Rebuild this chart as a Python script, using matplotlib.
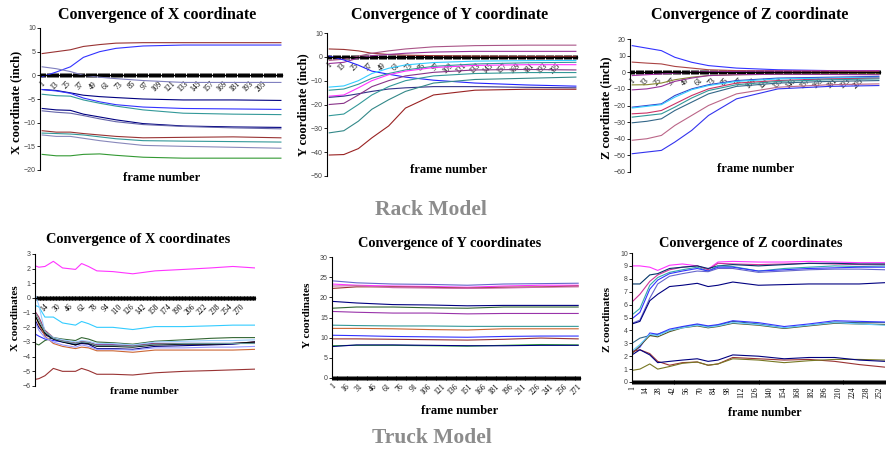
import numpy as np
import matplotlib
matplotlib.use("Agg")
import matplotlib.pyplot as plt
from matplotlib.ticker import MultipleLocator

W, H = 886, 451

# ---------------- data ----------------
# Rack model: sample frames shared by the three rack panels
rack_frames = [2, 15, 28, 40, 55, 70, 95, 132, 178, 222]
rack_ticks = [1, 13, 25, 37, 49, 61, 73, 85, 97, 109, 121, 133, 145, 157, 169, 181, 193, 205]

rack_x_vals = [
    [4.6, 5.0, 5.4, 6.1, 6.5, 6.8, 6.9, 6.9, 6.9, 6.9],
    [-0.3, 0.7, 1.8, 3.8, 5.0, 5.7, 6.2, 6.4, 6.4, 6.4],
    [1.8, 1.4, 0.8, 0.0, -0.4, -0.7, -1.1, -1.5, -1.5, -1.5],
    [-3.0, -3.2, -3.7, -4.2, -4.5, -4.7, -5.0, -5.2, -5.2, -5.3],
    [-3.0, -3.3, -3.8, -4.8, -5.6, -6.2, -6.7, -7.0, -7.1, -7.2],
    [-4.0, -4.3, -4.4, -5.2, -5.9, -6.5, -7.3, -8.0, -8.2, -8.3],
    [-7.0, -7.3, -7.4, -8.2, -8.8, -9.4, -10.2, -10.7, -10.9, -11.0],
    [-7.5, -7.8, -8.0, -8.5, -9.2, -9.8, -10.4, -10.8, -11.1, -11.3],
    [-11.7, -12.0, -12.0, -12.3, -12.6, -12.9, -13.2, -13.1, -13.0, -13.2],
    [-12.2, -12.3, -12.4, -12.6, -13.0, -13.4, -13.8, -13.9, -14.0, -14.1],
    [-12.6, -12.9, -12.9, -13.3, -13.8, -14.2, -14.8, -15.0, -15.2, -15.4],
    [-16.7, -17.0, -17.0, -16.7, -16.6, -16.9, -17.3, -17.5, -17.5, -17.5],
]
rack_x_colors = ['#993333', '#3333ff', '#8080c0', '#000080', '#3333ff', '#339999',
                 '#000080', '#6666aa', '#993333', '#339999', '#8888bb', '#339933']

rack_y_vals = [
    [3.3, 3.1, 2.5, 1.5, 1.0, 0.7, 0.5, 0.3, 0.2, 0.2],
    [-1.5, -1.0, 0.3, 1.5, 2.5, 3.3, 4.2, 4.7, 4.9, 4.9],
    [-2.8, -2.3, -0.5, 0.5, 1.0, 1.5, 2.0, 2.3, 2.3, 2.3],
    [0.3, -1.3, -3.5, -6.0, -7.3, -8.5, -9.8, -11.0, -11.8, -12.3],
    [-12.7, -12.2, -10.0, -7.0, -4.8, -3.4, -2.4, -1.8, -1.6, -1.5],
    [-14.0, -13.5, -11.5, -9.0, -7.0, -5.5, -4.0, -3.0, -2.5, -2.3],
    [-16.5, -16.0, -13.0, -10.0, -7.5, -6.0, -4.5, -3.6, -3.3, -3.3],
    [-17.0, -16.5, -15.5, -14.5, -13.5, -13.0, -12.5, -12.5, -12.8, -13.0],
    [-20.0, -19.5, -16.0, -12.5, -10.0, -8.0, -6.5, -5.5, -5.3, -5.5],
    [-24.7, -24.0, -20.0, -16.0, -12.5, -10.0, -8.0, -7.0, -6.6, -6.6],
    [-31.9, -31.0, -27.0, -22.0, -18.0, -14.5, -11.0, -9.5, -9.0, -8.5],
    [-41.2, -41.0, -38.5, -34.0, -29.0, -21.5, -16.0, -14.0, -13.6, -13.6],
]
rack_y_colors = ['#993333', '#aa5588', '#993399', '#2222ff', '#33ccff', '#339999',
                 '#ff33ff', '#333388', '#883388', '#339999', '#338888', '#992222']

rack_z_vals = [
    [16.0, 14.5, 13.0, 9.0, 6.0, 4.0, 2.5, 1.5, 1.0, 0.5],
    [6.1, 5.5, 5.0, 3.5, 2.5, 1.5, 1.0, 0.8, 0.6, 0.5],
    [-2.0, -1.5, -1.0, -0.5, 0.0, 0.3, 0.5, 0.8, 1.0, 1.0],
    [-7.6, -7.5, -6.5, -4.5, -3.0, -2.0, -1.5, -1.2, -1.0, -1.0],
    [-10.6, -10.0, -8.5, -5.5, -3.5, -2.0, -1.5, -1.2, -1.3, -1.5],
    [-21.0, -20.0, -19.0, -14.0, -10.0, -7.5, -5.0, -3.5, -3.0, -2.5],
    [-21.5, -20.5, -19.5, -15.0, -10.5, -8.0, -5.5, -4.0, -3.5, -3.0],
    [-25.0, -24.5, -23.0, -19.0, -14.0, -10.0, -6.5, -5.0, -4.0, -3.5],
    [-27.0, -26.0, -25.0, -21.0, -15.5, -11.0, -7.5, -5.5, -4.5, -4.0],
    [-30.4, -29.5, -28.0, -23.0, -18.0, -13.0, -8.5, -6.5, -5.5, -5.0],
    [-40.9, -40.0, -38.0, -32.0, -26.0, -20.0, -13.0, -9.0, -7.5, -7.0],
    [-49.0, -48.0, -47.0, -42.0, -35.0, -26.0, -16.0, -10.0, -8.5, -8.0],
]
rack_z_colors = ['#3333ff', '#aa4444', '#aa33aa', '#888833', '#993399', '#3344cc',
                 '#33ccff', '#cc3366', '#339999', '#336688', '#bb6688', '#3333ee']

# Truck model
truck_x_frames = [1, 6, 14, 25, 37, 54, 62, 71, 82, 103, 129, 158, 196, 231, 260, 289]
truck_x_ticks = [14, 30, 46, 62, 78, 94, 110, 126, 142, 158, 174, 190, 206, 222, 238, 254, 270]
truck_x_vals = [
    [2.2, 2.1, 2.15, 2.5, 2.05, 1.95, 2.35, 2.15, 1.85, 1.8, 1.65, 1.85, 1.95, 2.05, 2.15, 2.05],
    [-0.5, -0.6, -1.3, -1.3, -1.7, -1.85, -1.6, -1.75, -2.0, -2.0, -2.15, -1.95, -1.95, -1.9, -1.85, -1.85],
    [-5.55, -5.5, -5.3, -4.8, -5.0, -5.0, -4.8, -4.95, -5.2, -5.2, -5.25, -5.1, -5.0, -4.95, -4.9, -4.85],
    [-3.1, -3.2, -2.9, -2.7, -2.8, -2.9, -2.7, -2.8, -3.0, -3.05, -3.15, -2.95, -2.85, -2.75, -2.7, -2.7],
    [-2.45, -2.6, -2.8, -2.9, -3.0, -3.15, -3.0, -3.1, -3.2, -3.2, -3.25, -3.1, -3.1, -3.1, -3.1, -3.1],
    [-1.5, -2.0, -2.5, -2.8, -2.95, -3.2, -3.1, -3.15, -3.45, -3.45, -3.5, -3.3, -3.25, -3.2, -3.15, -3.0],
    [-1.1, -1.8, -2.6, -3.1, -3.3, -3.45, -3.35, -3.4, -3.6, -3.6, -3.7, -3.55, -3.55, -3.55, -3.55, -3.5],
    [-0.9, -1.3, -2.2, -2.7, -2.9, -3.05, -2.95, -3.0, -3.2, -3.2, -3.25, -3.1, -3.1, -3.1, -3.1, -3.0],
    [0.3, -0.5, -2.3, -2.7, -2.85, -3.0, -2.9, -2.95, -3.1, -3.1, -3.2, -3.0, -2.95, -2.9, -2.9, -2.85],
    [-1.6, -2.2, -2.7, -3.0, -3.2, -3.35, -3.2, -3.3, -3.5, -3.5, -3.55, -3.4, -3.4, -3.35, -3.35, -3.3],
    [-1.2, -1.7, -2.4, -2.8, -3.0, -3.2, -3.05, -3.1, -3.3, -3.3, -3.35, -3.2, -3.15, -3.15, -3.1, -3.0],
    [-1.0, -1.5, -2.3, -2.75, -2.95, -3.1, -3.0, -3.05, -3.25, -3.25, -3.3, -3.15, -3.1, -3.1, -3.1, -3.1],
]
truck_x_colors = ['#ff33ff', '#33ccff', '#993333', '#336633', '#3333ff', '#000080',
                  '#cc6633', '#993366', '#99ccff', '#9999ff', '#000000', '#669999']

truck_y_frames = [1, 28, 68, 109, 150, 190, 231, 272]
truck_y_ticks = [1, 16, 31, 46, 61, 76, 91, 106, 121, 136, 151, 166, 181, 196, 211, 226, 241, 256, 271]
truck_y_vals = [
    [24.1, 23.6, 23.3, 23.2, 23.0, 23.3, 23.4, 23.5],
    [23.3, 23.0, 22.8, 22.7, 22.5, 22.8, 23.0, 23.0],
    [22.2, 22.6, 22.6, 22.5, 22.3, 22.5, 22.6, 22.8],
    [22.8, 22.9, 22.4, 22.3, 22.2, 22.3, 22.5, 22.6],
    [19.0, 18.6, 18.2, 18.1, 17.9, 18.0, 18.0, 18.0],
    [17.3, 17.6, 17.6, 17.4, 17.3, 17.6, 17.6, 17.6],
    [16.5, 16.3, 16.1, 16.1, 15.9, 16.0, 16.0, 16.0],
    [13.1, 13.0, 12.9, 12.9, 12.8, 12.8, 12.8, 12.8],
    [12.3, 12.3, 12.2, 12.0, 11.9, 12.2, 12.2, 12.2],
    [10.6, 10.5, 10.3, 10.2, 10.1, 10.3, 10.4, 10.4],
    [9.7, 9.7, 9.6, 9.5, 9.4, 9.6, 9.9, 9.7],
    [8.0, 8.1, 8.1, 8.0, 7.9, 8.1, 8.3, 8.2],
    [7.8, 8.2, 8.2, 8.1, 8.0, 8.0, 8.1, 8.1],
]
truck_y_colors = ['#6666cc', '#ff33ff', '#993333', '#cc66aa', '#000080', '#336633',
                  '#9933aa', '#339999', '#cc6633', '#3333ff', '#993333', '#33aa33', '#000080']

truck_z_frames = [1, 9, 19, 27, 39, 52, 67, 78, 88, 103, 129, 155, 180, 206, 231, 257]
truck_z_ticks = [1, 14, 28, 42, 56, 70, 84, 98, 112, 126, 140, 154, 168, 182, 196, 210, 224, 238, 252]
truck_z_vals = [
    [9.0, 9.0, 8.9, 8.65, 9.05, 9.15, 9.0, 8.75, 9.3, 9.35, 9.3, 9.3, 9.35, 9.3, 9.25, 9.25],
    [6.2, 6.8, 7.8, 8.3, 8.7, 8.9, 9.0, 8.7, 9.2, 9.15, 9.1, 9.15, 9.2, 9.15, 9.1, 9.1],
    [7.6, 7.6, 8.3, 8.4, 8.8, 8.9, 9.0, 8.8, 9.0, 9.1, 9.0, 9.1, 9.2, 9.2, 9.15, 9.15],
    [5.2, 5.7, 7.5, 8.1, 8.5, 8.7, 8.9, 8.6, 9.0, 8.95, 8.6, 8.8, 8.9, 9.0, 8.95, 9.0],
    [4.9, 5.4, 7.2, 7.9, 8.4, 8.6, 8.8, 8.6, 8.9, 8.9, 8.6, 8.7, 8.8, 8.85, 8.9, 8.9],
    [4.55, 4.8, 6.5, 7.6, 8.2, 8.4, 8.6, 8.55, 8.8, 8.8, 8.5, 8.6, 8.7, 8.75, 8.75, 8.7],
    [4.5, 4.7, 6.3, 6.8, 7.4, 7.5, 7.65, 7.4, 7.5, 7.75, 7.5, 7.55, 7.6, 7.6, 7.6, 7.7],
    [3.0, 3.4, 3.6, 3.7, 4.0, 4.25, 4.45, 4.3, 4.4, 4.7, 4.5, 4.2, 4.4, 4.65, 4.6, 4.6],
    [2.3, 2.7, 3.8, 3.7, 4.1, 4.3, 4.5, 4.35, 4.45, 4.75, 4.6, 4.3, 4.5, 4.75, 4.7, 4.65],
    [2.2, 2.8, 3.6, 3.5, 3.9, 4.2, 4.35, 4.2, 4.3, 4.55, 4.4, 4.15, 4.35, 4.55, 4.5, 4.45],
    [2.4, 2.9, 3.7, 3.6, 4.0, 4.2, 4.4, 4.25, 4.35, 4.6, 4.45, 4.2, 4.4, 4.6, 4.5, 4.4],
    [2.35, 2.5, 2.2, 1.6, 1.3, 1.5, 1.55, 1.3, 1.4, 1.9, 1.8, 1.7, 1.75, 1.6, 1.35, 1.15],
    [0.9, 1.0, 1.4, 1.0, 1.2, 1.45, 1.55, 1.3, 1.4, 1.8, 1.7, 1.5, 1.65, 1.75, 1.75, 1.7],
    [2.1, 2.5, 2.1, 1.5, 1.6, 1.7, 1.8, 1.6, 1.7, 2.1, 2.0, 1.8, 1.9, 1.9, 1.7, 1.6],
]
truck_z_colors = ['#ff33ff', '#cc3399', '#003366', '#33aaaa', '#3333ff', '#6666cc', '#000080',
                  '#336688', '#3333ff', '#555522', '#66ccff', '#993333', '#777722', '#000080']

# ---------------- drawing ----------------
SERIF = 'Liberation Serif'
SANS = 'Liberation Sans'

fig = plt.figure(figsize=(W / 100, H / 100), dpi=100)


def px_text(x, y, s, **kw):
    fig.text(x / W, 1 - y / H, s, ha='center', va='center', **kw)


def panel(box, frames, vals, colors, xlim, ticks, ylim, ystep, rot, minor=1):
    x0, y0, x1, y1 = box
    ax = fig.add_axes([x0 / W, 1 - y1 / H, (x1 - x0) / W, (y1 - y0) / H])
    for v, c in zip(vals, colors):
        ax.plot(frames, v, color=c, lw=0.8)
    ax.set_xlim(*xlim)
    ax.set_ylim(*ylim)
    for s in ('top', 'right'):
        ax.spines[s].set_visible(False)
    # Excel-style category axis crossing at zero
    ax.spines['bottom'].set_position(('data', 0))
    ax.spines['bottom'].set_linewidth(1.0)
    ax.spines['left'].set_linewidth(0.8)
    ax.set_yticks(np.arange(ylim[0], ylim[1] + ystep / 2, ystep))
    ax.tick_params(axis='y', length=2, width=0.6, labelsize=5, labelcolor='#444444', pad=1)
    for lab in ax.get_yticklabels():
        lab.set_family(SANS)
    ax.set_xticks(ticks)
    ax.set_xticklabels([str(t) for t in ticks], rotation=rot, family=SERIF,
                       ha='right' if rot == 45 else 'center',
                       rotation_mode='anchor' if rot == 45 else 'default')
    ax.xaxis.set_minor_locator(MultipleLocator(minor))
    ax.tick_params(axis='x', which='both', length=2.5, width=0.7, direction='inout',
                   labelsize=5.5, pad=2)
    return ax


panel((40, 28, 282, 170), rack_frames, rack_x_vals, rack_x_colors,
      (0, 223), rack_ticks, (-20, 10), 5, 45)
panel((327, 33, 577, 176), rack_frames, rack_y_vals, rack_y_colors,
      (0, 223), rack_ticks, (-50, 10), 10, 45)
panel((630, 39, 880, 172), rack_frames, rack_z_vals, rack_z_colors,
      (0, 223), rack_ticks, (-60, 20), 10, 45)
panel((35, 254, 255, 386), truck_x_frames, truck_x_vals, truck_x_colors,
      (1, 289), truck_x_ticks, (-6, 3), 1, 45)
panel((332, 257, 580, 378), truck_y_frames, truck_y_vals, truck_y_colors,
      (1, 274), truck_y_ticks, (0, 30), 5, 45)
panel((632, 253, 885, 382), truck_z_frames, truck_z_vals, truck_z_colors,
      (1, 257), truck_z_ticks, (0, 10), 1, 90)

title_kw = dict(family=SERIF, weight='bold')
px_text(157, 15, 'Convergence of X coordinate', fontsize=11.5, **title_kw)
px_text(450, 15, 'Convergence of Y coordinate', fontsize=11.5, **title_kw)
px_text(750, 15, 'Convergence of Z coordinate', fontsize=11.5, **title_kw)
px_text(138, 240, 'Convergence of X coordinates', fontsize=10.4, **title_kw)
px_text(450, 244, 'Convergence of Y coordinates', fontsize=10.4, **title_kw)
px_text(751, 243, 'Convergence of Z coordinates', fontsize=10.4, **title_kw)

px_text(162, 178, 'frame number', fontsize=9, **title_kw)
px_text(449, 170, 'frame number', fontsize=9, **title_kw)
px_text(756, 169, 'frame number', fontsize=9, **title_kw)
px_text(144, 391, 'frame number', fontsize=8, **title_kw)
px_text(460, 411, 'frame number', fontsize=9, **title_kw)
px_text(765, 413, 'frame number', fontsize=8.6, **title_kw)

px_text(16, 102, 'X coordinate (inch)', fontsize=9, rotation=90, **title_kw)
px_text(303, 105, 'Y coordinate (inch)', fontsize=9, rotation=90, **title_kw)
px_text(606, 108, 'Z coordinate (inch)', fontsize=9, rotation=90, **title_kw)
px_text(15, 318, 'X coordinates', fontsize=8, rotation=90, **title_kw)
px_text(308, 315, 'Y coordinates', fontsize=8, rotation=90, **title_kw)
px_text(608, 319, 'Z coordinates', fontsize=8, rotation=90, **title_kw)

px_text(431, 210, 'Rack Model', fontsize=15.5, color='#8c8c8c', **title_kw)
px_text(432, 438, 'Truck Model', fontsize=15.5, color='#8c8c8c', **title_kw)

fig.savefig('out.png', dpi=100)
